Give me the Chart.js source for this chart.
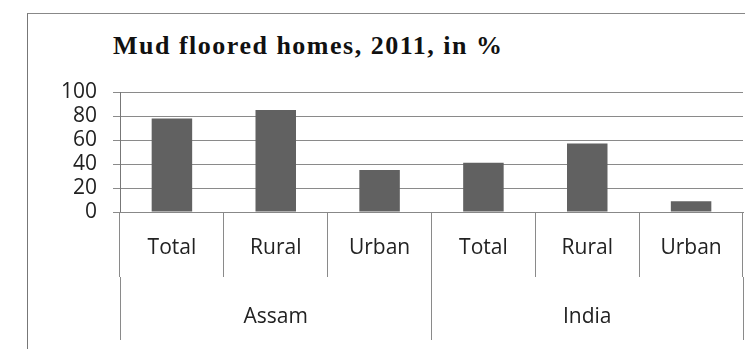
<!DOCTYPE html>
<html>
<head>
<meta charset="utf-8">
<script src="https://cdn.jsdelivr.net/npm/chart.js@4"></script>
<style>
  body { margin: 0; background: #fff; }
  #wrap { position: relative; width: 745px; height: 349px; overflow: hidden; }
  #frame { position: absolute; left: 27px; top: 13px; width: 730px; height: 350px;
           border-left: 1px solid #777; border-top: 1px solid #888; }
  #title { position: absolute; left: 113px; top: 31px; font: bold 26px "Liberation Serif", serif;
           letter-spacing: 1.5px; color: #111; white-space: nowrap; }
  canvas { position: absolute; left: 0; top: 0; }
</style>
</head>
<body>
<div id="wrap">
  <div id="frame"></div>
  <div id="title">Mud floored homes, 2011, in %</div>
  <canvas id="chart" width="745" height="349"></canvas>
</div>
<script>
const areas = ["Total", "Rural", "Urban", "Total", "Rural", "Urban"];
const regions = ["Assam", "India"];
const mudFloor = [78, 85, 35, 41, 57, 9];
const yTicks = [0, 20, 40, 60, 80, 100];

const lineCol = "#8a8a8a";
const labelFont = { family: "'Open Sans', sans-serif", size: 21 };

const ctx = document.getElementById("chart").getContext("2d");
new Chart(ctx, {
  type: "bar",
  data: {
    labels: areas,
    datasets: [{
      data: mudFloor,
      backgroundColor: "#616161",
      categoryPercentage: 1,
      barPercentage: 0.39
    }]
  },
  options: {
    responsive: false,
    animation: false,
    layout: { padding: { top: 92, right: 2, bottom: 9, left: 0 } },
    plugins: { legend: { display: false }, tooltip: { enabled: false } },
    scales: {
      y: {
        min: 0,
        max: 100,
        afterBuildTicks: s => { s.ticks = yTicks.map(v => ({ value: v })); },
        afterFit: s => { s.width = 120; },
        grid: { color: lineCol, tickLength: 7 },
        border: { color: "#777" },
        ticks: { color: "#222", font: labelFont, padding: 16, autoSkip: false }
      },
      x: {
        offset: true,
        afterFit: s => { s.height = 65; },
        grid: { offset: true, drawOnChartArea: false, tickLength: 65, color: lineCol },
        border: { color: "#888" },
        ticks: { color: "#222", font: labelFont, padding: -42 }
      },
      x2: {
        type: "category",
        labels: regions,
        position: "bottom",
        offset: true,
        afterFit: s => { s.height = 63; },
        grid: { offset: true, drawOnChartArea: false, tickLength: 63, color: lineCol },
        border: { display: false },
        ticks: { color: "#222", font: labelFont, padding: -36 }
      }
    }
  }
});
</script>
</body>
</html>
